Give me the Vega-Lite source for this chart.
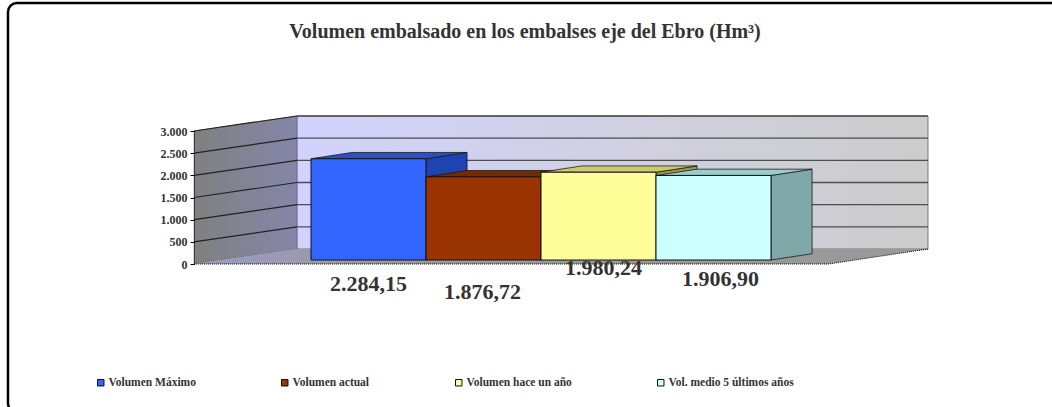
{"$schema":"https://vega.github.io/schema/vega-lite/v6.json","width":460,"height":133,"autosize":"none","padding":{"left":311,"top":127,"right":281,"bottom":147},"background":"white","view":{"stroke":null},
"config":{"locale":{"number":{"decimal":",","thousands":".","grouping":[3],"currency":["","€"]}},"font":"Liberation Serif","axisY":{"tickCount":6,"labelOverlap":false}},
"title":{"text":"Volumen embalsado en los embalses eje del Ebro (Hm³)","anchor":"middle","frame":"group","offset":-40,"dx":-16,"font":"Liberation Serif","fontSize":20,"fontWeight":"bold","color":"#333333"},
"datasets":{
"volumenes":[{"serie":"Volumen Máximo","orden":0,"valor":2284.15},{"serie":"Volumen actual","orden":1,"valor":1876.72},{"serie":"Volumen hace un año","orden":2,"valor":1980.24},{"serie":"Vol. medio 5 últimos años","orden":3,"valor":1906.9}],
"marcas":[{"marca":500},{"marca":1000},{"marca":1500},{"marca":2000},{"marca":2500},{"marca":3000}],
"pared":[{"pos":-1.517,"sup":2910,"inf":-90},{"pos":-0.622,"sup":3248,"inf":248}],
"suelo":[{"nivel":-90,"ini":-1.517,"fin":3.996},{"nivel":248,"ini":-0.622,"fin":4.865}],
"laterales":[
{"serie":"Volumen Máximo","pos":0.5,"inf":0,"sup":2284.15},{"serie":"Volumen Máximo","pos":0.857,"inf":142,"sup":2426},
{"serie":"Volumen actual","pos":1.5,"inf":0,"sup":1876.72},{"serie":"Volumen actual","pos":1.857,"inf":142,"sup":2019},
{"serie":"Volumen hace un año","pos":2.5,"inf":0,"sup":1980.24},{"serie":"Volumen hace un año","pos":2.857,"inf":142,"sup":2122},
{"serie":"Vol. medio 5 últimos años","pos":3.5,"inf":0,"sup":1906.9},{"serie":"Vol. medio 5 últimos años","pos":3.857,"inf":142,"sup":2049}],
"tapas":[
{"serie":"Volumen Máximo","nivel":2284.15,"ini":-0.5,"fin":0.5},{"serie":"Volumen Máximo","nivel":2426,"ini":-0.143,"fin":0.857},
{"serie":"Volumen actual","nivel":1876.72,"ini":0.5,"fin":1.5},{"serie":"Volumen actual","nivel":2019,"ini":0.857,"fin":1.857},
{"serie":"Volumen hace un año","nivel":1980.24,"ini":1.5,"fin":2.5},{"serie":"Volumen hace un año","nivel":2122,"ini":1.857,"fin":2.857},
{"serie":"Vol. medio 5 últimos años","nivel":1906.9,"ini":2.5,"fin":3.5},{"serie":"Vol. medio 5 últimos años","nivel":2049,"ini":2.857,"fin":3.857}]
},
"data":{"name":"volumenes"},
"resolve":{"scale":{"color":"independent"}},
"layer":[
{"data":{"values":[{"marco":"exterior"}]},"mark":{"type":"rect","fill":"white","stroke":"black","strokeWidth":2.5,"cornerRadius":9},
"encoding":{"x":{"datum":-3.135,"type":"quantitative","axis":null,"scale":{"domain":[-0.5,3.5],"nice":false,"zero":false,"padding":0}},"x2":{"datum":6.6},"y":{"datum":5797,"type":"quantitative","scale":{"domain":[0,3000],"nice":false},"axis":{"tickCount":6,"title":null,"orient":"left","offset":121,"translate":4.5,"format":",d","grid":false,"domain":true,"domainColor":"black","domainDash":[1,1],"tickColor":"black","tickSize":4,"labelFont":"Liberation Serif","labelFontSize":12,"labelFontWeight":"bold","labelColor":"#333333","labelPadding":3,"labelOverlap":false,"labelBound":false,"zindex":1}},"y2":{"datum":-3430}}},
{"data":{"values":[{"marco":"fondo"}]},"mark":{"type":"rect","stroke":"#777777","strokeWidth":1,"color":{"gradient":"linear","x1":0,"x2":1,"y1":0,"y2":0,"stops":[{"offset":0,"color":"#d2d2ff"},{"offset":0.55,"color":"#d0d0e0"},{"offset":1,"color":"#cccccc"}]}},
"encoding":{"x":{"datum":-0.622,"type":"quantitative"},"x2":{"datum":4.865},"y":{"datum":248,"type":"quantitative"},"y2":{"datum":3248}}},
{"data":{"name":"pared"},"mark":{"type":"area","orient":"vertical","stroke":"#555555","strokeWidth":0.5,"color":{"gradient":"linear","x1":0,"x2":1,"y1":0,"y2":0,"stops":[{"offset":0,"color":"#808080"},{"offset":1,"color":"#8585aa"}]}},
"encoding":{"x":{"field":"pos","type":"quantitative"},"y":{"field":"sup","type":"quantitative"},"y2":{"field":"inf"}}},
{"data":{"name":"suelo"},"mark":{"type":"area","orient":"horizontal","color":{"gradient":"linear","x1":0,"x2":1,"y1":0,"y2":0,"stops":[{"offset":0,"color":"#9a9ac4"},{"offset":0.3,"color":"#999999"},{"offset":1,"color":"#999999"}]}},
"encoding":{"y":{"field":"nivel","type":"quantitative"},"x":{"field":"ini","type":"quantitative"},"x2":{"field":"fin"}}},
{"data":{"name":"marcas"},"mark":{"type":"rule","color":"#4d4d4d","strokeWidth":1.3,"yOffset":-11,"y2Offset":-11},
"encoding":{"x":{"datum":-0.622,"type":"quantitative"},"x2":{"datum":4.865},"y":{"field":"marca","type":"quantitative"},"y2":{"field":"marca"}}},
{"data":{"name":"marcas"},"mark":{"type":"rule","color":"#222222","strokeWidth":1.2,"yOffset":4,"y2Offset":-11},
"encoding":{"x":{"datum":-1.517,"type":"quantitative"},"x2":{"datum":-0.622},"y":{"field":"marca","type":"quantitative"},"y2":{"field":"marca"}}},
{"data":{"values":[{"marca":0}]},"mark":{"type":"rule","color":"black","strokeWidth":1,"strokeDash":[1,1],"yOffset":4,"y2Offset":4},
"encoding":{"x":{"datum":-1.517,"type":"quantitative"},"x2":{"datum":3.996},"y":{"field":"marca","type":"quantitative"},"y2":{"field":"marca"}}},
{"data":{"values":[{"marca":0}]},"mark":{"type":"rule","color":"black","strokeWidth":1,"strokeDash":[1,1],"yOffset":4,"y2Offset":-11},
"encoding":{"x":{"datum":3.996,"type":"quantitative"},"x2":{"datum":4.865},"y":{"field":"marca","type":"quantitative"},"y2":{"field":"marca"}}},
{"data":{"name":"laterales"},"mark":{"type":"area","orient":"vertical","stroke":"#1a1a1a","strokeWidth":0.8},
"encoding":{"x":{"field":"pos","type":"quantitative"},"y":{"field":"sup","type":"quantitative"},"y2":{"field":"inf"},"color":{"field":"serie","type":"nominal","legend":null,"scale":{"domain":["Volumen Máximo","Volumen actual","Volumen hace un año","Vol. medio 5 últimos años"],"range":["#1f43b0","#662200","#999950","#80a8a8"]}}}},
{"data":{"name":"tapas"},"mark":{"type":"area","orient":"horizontal","stroke":"#1a1a1a","strokeWidth":0.8},
"encoding":{"y":{"field":"nivel","type":"quantitative"},"x":{"field":"ini","type":"quantitative"},"x2":{"field":"fin"},"color":{"field":"serie","type":"nominal","legend":null,"scale":{"domain":["Volumen Máximo","Volumen actual","Volumen hace un año","Vol. medio 5 últimos años"],"range":["#2850c8","#7a2800","#cccc66","#99cccc"]}}}},
{"mark":{"type":"bar","size":115,"orient":"vertical","stroke":"#111111","strokeWidth":1},
"encoding":{"x":{"field":"orden","type":"quantitative"},"y":{"field":"valor","type":"quantitative","stack":null},
"color":{"field":"serie","type":"nominal","scale":{"domain":["Volumen Máximo","Volumen actual","Volumen hace un año","Vol. medio 5 últimos años"],"range":["#3366ff","#993300","#ffff99","#ccffff"]},"legend":{"title":null,"orient":"none","legendX":-216,"legendY":250,"direction":"horizontal","columns":4,"gridAlign":"none","columnPadding":83,"padding":0,"symbolType":"square","symbolSize":42,"symbolStrokeColor":"#111111","symbolStrokeWidth":1,"labelFont":"Liberation Serif","labelFontSize":11.5,"labelFontWeight":"bold","labelColor":"#333333","labelOffset":2,"symbolOpacity":1}}}},
{"mark":{"type":"text","font":"Liberation Serif","fontSize":22,"fontWeight":"bold","color":"#333333","baseline":"middle","dy":{"expr":"[24,32,8,19][datum.orden]"},"dx":{"expr":"[0,-1,5,7][datum.orden]"}},
"encoding":{"x":{"field":"orden","type":"quantitative"},"y":{"datum":0,"type":"quantitative"},"text":{"field":"valor","type":"quantitative","format":",.2f"}}}
]}
